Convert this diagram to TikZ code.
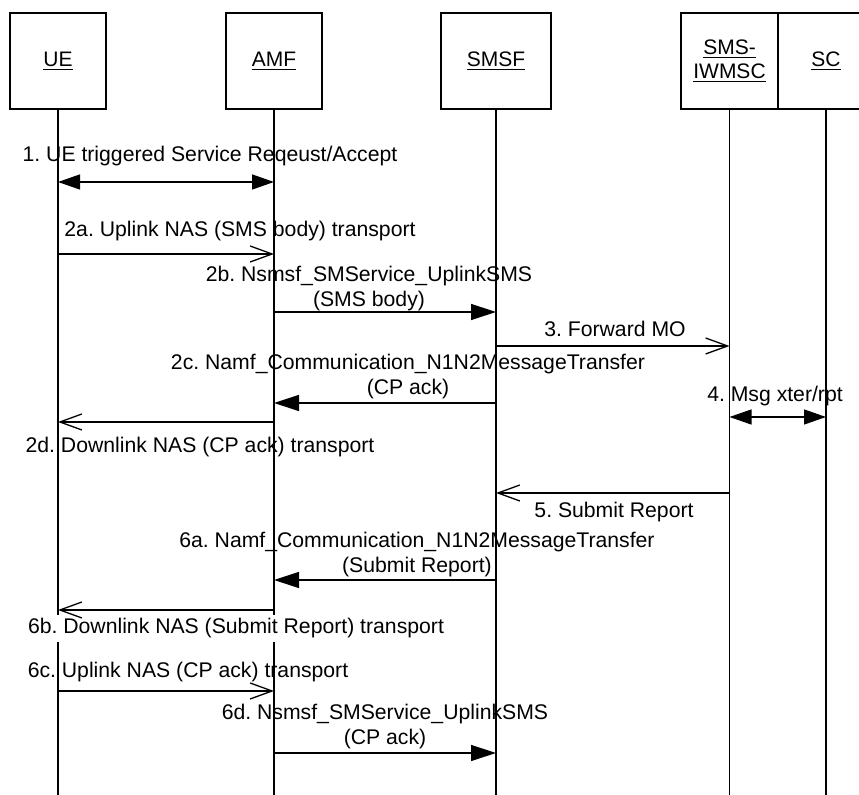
\documentclass[tikz,border=0pt]{standalone}
\usepackage{fontspec}
\setmainfont{Liberation Sans}
\usetikzlibrary{arrows.meta,positioning}
\frenchspacing

\begin{document}
\begin{tikzpicture}[
  x=0.5pt, y=-0.5pt,
  entity/.style={draw, line width=1pt, minimum height=48pt, inner sep=0pt,
                 outer sep=0pt, align=center, font=\fontsize{10.5}{12}\selectfont},
  life/.style={line width=0.65pt},
  msg/.style={font=\fontsize{10.6}{12.5}\selectfont, inner sep=1pt, align=center, anchor=base},
  call/.style={line width=0.65pt, -{Triangle[length=12.5pt, width=8pt]}},
  both/.style={line width=0.65pt, {Triangle[length=11pt, width=7.5pt]}-{Triangle[length=11pt, width=7.5pt]}},
  note/.style={line width=0.65pt, -{Straight Barb[length=11pt, width=8pt]}}
]
  \clip (0,0) rectangle (859,795);
  \coordinate (bottom) at (0,795);

  \node[entity, minimum width=48pt] (ue) at (58,61) {\underline{UE}};
  \node[entity, minimum width=48pt] (amf) at (274,61) {\underline{AMF}};
  \node[entity, minimum width=55pt] (smsf) at (496,61) {\underline{SMSF}};
  \node[entity, minimum width=48.5pt] (iwmsc) at (729.5,61) {\underline{SMS-}\\\underline{IWMSC}};
  \node[entity, minimum width=48pt] (sc) at (826,61) {\underline{SC}};

  \draw[life] (ue.south) -- (ue.south |- bottom);
  \draw[life] (amf.south) -- (amf.south |- bottom);
  \draw[life] (smsf.south) -- (smsf.south |- bottom);
  \draw[life] (iwmsc.south) -- (iwmsc.south |- bottom);
  \draw[life] (sc.south) -- (sc.south |- bottom);

  \node[msg] (m1) at (210,162) {1. UE triggered Service Reqeust/Accept};
  \draw[both] (ue |- 0,182) -- (amf |- 0,182);

  \node[msg] (m2a) at (240,237) {2a. Uplink NAS (SMS body) transport};
  \draw[note] (ue |- 0,254) -- (amf |- 0,254);

  \node[msg] (m2b) at (369,307) {2b. Nsmsf\_SMService\_UplinkSMS\\(SMS body)};
  \draw[call] (amf |- 0,312) -- (smsf |- 0,312);

  \node[msg] (m3) at (615,337) {3. Forward MO};
  \draw[note] (smsf |- 0,346) -- (iwmsc |- 0,346);

  \node[msg] (m2c) at (408,395) {2c. Namf\_Communication\_N1N2MessageTransfer\\(CP ack)};
  \draw[call] (smsf |- 0,403) -- (amf |- 0,403);

  \node[msg] (m4) at (775,402) {4. Msg xter/rpt};
  \draw[both] (iwmsc |- 0,417) -- (sc |- 0,417);

  \node[msg] (m2d) at (200,453) {2d. Downlink NAS (CP ack) transport};
  \draw[note] (amf |- 0,422) -- (ue |- 0,422);

  \node[msg] (m5) at (614,518) {5. Submit Report};
  \draw[note] (iwmsc |- 0,493) -- (smsf |- 0,493);

  \node[msg] (m6a) at (417,573) {6a. Namf\_Communication\_N1N2MessageTransfer\\(Submit Report)};
  \draw[call] (smsf |- 0,580) -- (amf |- 0,580);

  \node[msg, fill=white, inner sep=2pt] (m6b) at (236,634) {6b. Downlink NAS (Submit Report) transport};
  \draw[note] (amf |- 0,610) -- (ue |- 0,610);

  \node[msg] (m6c) at (188,678) {6c. Uplink NAS (CP ack) transport};
  \draw[note] (ue |- 0,691) -- (amf |- 0,691);

  \node[msg] (m6d) at (385,745) {6d. Nsmsf\_SMService\_UplinkSMS\\(CP ack)};
  \draw[call] (amf |- 0,753) -- (smsf |- 0,753);
\end{tikzpicture}
\end{document}
